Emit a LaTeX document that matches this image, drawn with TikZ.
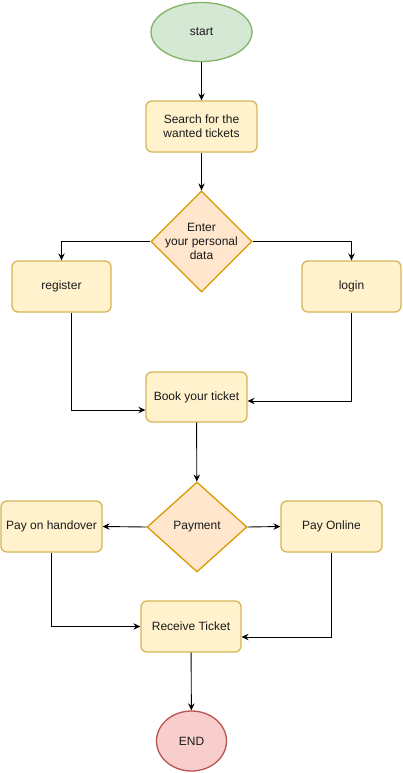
\documentclass[tikz,border=0pt]{standalone}
\usepackage{fontspec}
\setmainfont{Liberation Sans}
\usetikzlibrary{shapes.geometric,arrows.meta}
\definecolor{gfill}{HTML}{D5E8D4}\definecolor{gdraw}{HTML}{82B366}
\definecolor{yfill}{HTML}{FFF2CC}\definecolor{ydraw}{HTML}{D6B656}
\definecolor{ofill}{HTML}{FFE6CC}\definecolor{odraw}{HTML}{D79B00}
\definecolor{rfill}{HTML}{F8CECC}\definecolor{rdraw}{HTML}{B85450}
\begin{document}
\begin{tikzpicture}[x=1pt,y=-1pt,
  every node/.style={font=\fontsize{12}{14}\selectfont, text=black!90},
  proc/.style={draw=ydraw, fill=yfill, line width=1.3pt, rounded corners=6pt, minimum width=#1, minimum height=51pt, inner sep=0pt, align=center},
  proc/.default=100pt,
  term/.style={ellipse, draw=#1draw, fill=#1fill, line width=1.3pt, inner sep=0pt},
  dia/.style={diamond, draw=odraw, fill=ofill, line width=1.3pt, inner sep=0pt, minimum width=#1, aspect=1},
  txt/.style={align=center, inner sep=0pt},
  conn/.style={draw=black, line width=0.9pt, -{Stealth[length=7pt,width=6.5pt,inset=2.5pt]}}]
\useasboundingbox (0,0) rectangle (403,773);
\node[term=g, minimum width=101pt, minimum height=59pt] (start) at (201.5,32) {start};
\node[proc=111pt] (search) at (201.5,126.5) {Search for the\\wanted tickets};
\node[dia=101pt, minimum height=101pt] (d1) at (201.5,241.5) {};
\node[txt] (d1t) at (d1) {Enter\\your personal\\data};
\node[proc=99pt] (reg) at (61.5,286.5) {register};
\node[proc=99pt] (login) at (351.5,286.5) {login};
\node[proc=101pt, minimum height=50pt] (book) at (196.5,397) {Book your ticket};
\node[diamond, draw=odraw, fill=ofill, line width=1.3pt, inner sep=0pt, minimum width=100pt, minimum height=90pt] (pay) at (197,527) {};
\node[txt] (payt) at (pay) {Payment};
\node[proc=101pt] (ho) at (51.5,526.5) {Pay on handover};
\node[proc=101pt] (on) at (331.5,526.5) {Pay Online};
\node[proc=100pt] (rec) at (191,626.5) {Receive Ticket};
\node[term=r, minimum width=70pt, minimum height=60pt] (end) at (191.5,741) {END};

\draw[conn] (start) -- (search);
\draw[conn] (search) -- (d1);
\draw[conn] (d1.west) -| (reg.north);
\draw[conn] (d1.east) -| (login.north);
\draw[conn] ([xshift=9.5pt]reg.south) |- ([yshift=-13pt]book.west);
\draw[conn] (login.south) |- ([yshift=-4pt]book.east);
\draw[conn] (book) -- (pay);
\draw[conn] (pay.west) -- (ho.east);
\draw[conn] (pay.east) -- (on.west);
\draw[conn] (ho.south) |- (rec.west);
\draw[conn] (on.south) |- ([yshift=-10.5pt]rec.east);
\draw[conn] (rec) -- (end);
\end{tikzpicture}
\end{document}
